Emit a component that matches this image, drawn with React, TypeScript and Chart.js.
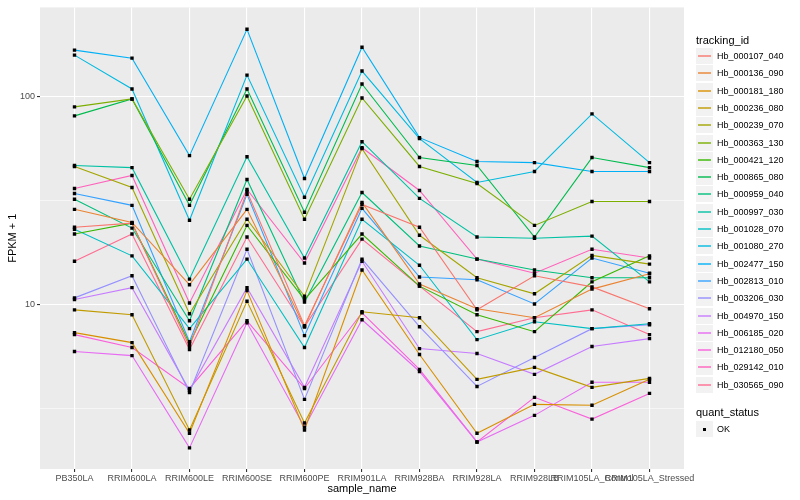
import React, { useEffect, useRef } from 'react';
import { Chart, registerables } from 'chart.js';

Chart.register(...registerables);

const sampleNames = ['PB350LA', 'RRIM600LA', 'RRIM600LE', 'RRIM600SE', 'RRIM600PE', 'RRIM901LA', 'RRIM928BA', 'RRIM928LA', 'RRIM928LB', 'RRIM105LA_Control', 'RRIM105LA_Stressed'];

const trackingIds = ['Hb_000107_040', 'Hb_000136_090', 'Hb_000181_180', 'Hb_000236_080', 'Hb_000239_070', 'Hb_000363_130', 'Hb_000421_120', 'Hb_000865_080', 'Hb_000959_040', 'Hb_000997_030', 'Hb_001028_070', 'Hb_001080_270', 'Hb_002477_150', 'Hb_002813_010', 'Hb_003206_030', 'Hb_004970_150', 'Hb_006185_020', 'Hb_012180_050', 'Hb_029142_010', 'Hb_030565_090'];

const seriesColors = ['#F8766D', '#EA8331', '#D89000', '#C09B00', '#A3A500', '#7CAE00', '#39B600', '#00BB4E', '#00BF7D', '#00C1A3', '#00BFC4', '#00BAE0', '#00B0F6', '#35A2FF', '#9590FF', '#C77CFF', '#E76BF3', '#FA62DB', '#FF62BC', '#FF6C91'];

const hb000107 = [23.6, 24.7, 6.3, 35.1, 7.93, 30.4, 23.6, 9.46, 13.8, 12.2, 9.57];
const hb000136 = [28.8, 24.9, 12.5, 28.8, 7.85, 31.1, 12.6, 9.57, 8.67, 11.9, 14.1];
const hb000181 = [7.35, 6.58, 2.41, 11.7, 2.5, 14.7, 5.77, 2.41, 3.32, 3.29, 4.38];
const hb000236 = [9.46, 8.96, 2.5, 10.4, 2.7, 9.26, 8.67, 4.38, 5.0, 4.01, 4.43];
const hb000239 = [46.3, 36.7, 9.06, 25.8, 11.0, 56.4, 21.6, 13.5, 11.3, 17.3, 15.7];
const hb000363 = [89.6, 97.8, 32.2, 101.1, 25.8, 98.9, 46.3, 38.3, 24.1, 31.4, 31.4];
const hb000421 = [21.9, 24.7, 6.51, 24.1, 10.6, 21.9, 12.3, 8.96, 7.43, 12.9, 17.2];
const hb000865 = [81.1, 97.8, 30.1, 109.2, 27.9, 115.4, 51.1, 46.8, 21.2, 51.1, 45.7];
const hb000959 = [32.2, 23.4, 8.38, 40.1, 10.3, 34.7, 19.2, 16.6, 14.7, 13.5, 13.5];
const hb000997 = [46.8, 45.7, 13.3, 51.6, 16.8, 60.9, 32.5, 21.2, 20.9, 21.4, 12.9];
const hb001028 = [23.1, 17.2, 7.68, 16.6, 6.23, 25.8, 15.5, 6.8, 8.29, 7.68, 8.11];
const hb001080 = [158.9, 109.2, 25.5, 127.4, 32.9, 133.2, 63.0, 38.8, 43.8, 82.9, 48.3];
const hb002477 = [167.9, 153.7, 52.2, 211.5, 40.5, 173.5, 63.7, 48.9, 48.3, 43.8, 43.8];
const hb002813 = [34.3, 30.1, 6.65, 34.0, 7.11, 29.1, 13.6, 13.2, 10.1, 16.8, 14.2];
const hb003206 = [10.8, 13.8, 3.79, 18.5, 3.51, 16.6, 7.85, 4.05, 5.58, 7.68, 8.02];
const hb004970 = [10.6, 12.1, 3.88, 12.1, 4.01, 16.2, 6.16, 5.83, 4.63, 6.3, 6.88];
const hb006185 = [5.96, 5.7, 2.05, 8.2, 2.58, 8.48, 4.78, 2.19, 2.94, 4.24, 4.24];
const hb012180 = [7.19, 6.23, 3.96, 8.38, 3.96, 9.16, 4.89, 2.19, 3.59, 2.82, 3.75];
const hb029142 = [36.3, 41.9, 10.2, 35.9, 15.9, 57.0, 35.5, 16.6, 14.2, 18.5, 16.8];
const hb030565 = [16.2, 21.9, 6.09, 21.2, 7.85, 20.7, 12.3, 7.43, 8.67, 9.46, 7.19];

const seriesValues = [hb000107, hb000136, hb000181, hb000236, hb000239, hb000363, hb000421, hb000865, hb000959, hb000997, hb001028, hb001080, hb002477, hb002813, hb003206, hb004970, hb006185, hb012180, hb029142, hb030565];

const yMajorTicks = [10, 100];
const yMinorTicks = [3.1623, 31.623];
const yMin = 1.623;
const yMax = 269.6;

const FONT = '"Liberation Sans", Arial, Helvetica, sans-serif';

const panelBg = {
  id: 'panelBg',
  beforeDraw(chart: any) {
    const { ctx, chartArea: a } = chart;
    ctx.save();
    ctx.fillStyle = '#EBEBEB';
    ctx.fillRect(a.left, a.top, a.right - a.left, a.bottom - a.top);
    ctx.restore();
  },
};

function ChartCanvas() {
  const ref = useRef<HTMLCanvasElement | null>(null);
  useEffect(() => {
    if (!ref.current) return;
    const lineSets = seriesValues.map((vals, i) => ({
      label: trackingIds[i],
      data: vals.map((v, j) => ({ x: j + 1, y: v })),
      borderColor: seriesColors[i],
      backgroundColor: seriesColors[i],
      borderWidth: 1.1,
      pointRadius: 0,
      tension: 0,
      order: 1,
    }));
    const pointSets = seriesValues.map((vals, i) => ({
      label: trackingIds[i] + ' OK',
      data: vals.map((v, j) => ({ x: j + 1, y: v })),
      showLine: false,
      pointStyle: 'rect',
      pointRadius: 2.4,
      pointBorderWidth: 0,
      pointBackgroundColor: '#000000',
      pointBorderColor: '#000000',
      order: 0,
    }));
    const chart = new Chart(ref.current, {
      type: 'line',
      data: { datasets: [...lineSets, ...pointSets] as any },
      plugins: [panelBg],
      options: {
        animation: false,
        responsive: true,
        maintainAspectRatio: false,
        layout: { padding: { left: 0, right: 116, top: 5, bottom: 0 } },
        plugins: { legend: { display: false }, tooltip: { enabled: false } },
        scales: {
          x: {
            type: 'linear',
            min: 0.4,
            max: 11.6,
            afterBuildTicks: (axis: any) => {
              axis.ticks = sampleNames.map((_, i) => ({ value: i + 1 }));
            },
            afterFit: (scale: any) => {
              scale.height = 31;
            },
            border: { display: false },
            grid: {
              color: '#FFFFFF',
              lineWidth: 1.1,
              tickLength: 3,
              tickColor: '#333333',
              drawTicks: true,
            },
            ticks: {
              autoSkip: false,
              maxRotation: 0,
              minRotation: 0,
              padding: 1,
              color: '#4D4D4D',
              font: { family: FONT, size: 9 },
              callback: (v: any) => sampleNames[Math.round(Number(v)) - 1] ?? '',
            },
            title: {
              display: true,
              text: 'sample_name',
              color: '#000000',
              font: { family: FONT, size: 11 },
              padding: { top: 0, bottom: 4 },
            },
          },
          y: {
            type: 'logarithmic',
            min: yMin,
            max: yMax,
            bounds: 'data',
            afterBuildTicks: (axis: any) => {
              axis.ticks = [...yMinorTicks, ...yMajorTicks].sort((a, b) => a - b).map((v) => ({ value: v }));
            },
            afterFit: (scale: any) => {
              scale.width = 40;
            },
            border: { display: false },
            grid: {
              color: '#FFFFFF',
              lineWidth: (ctx: any) => (yMajorTicks.includes(ctx.tick?.value) ? 1.1 : 0.55),
              tickLength: 3,
              tickColor: (ctx: any) => (yMajorTicks.includes(ctx.tick?.value) ? '#333333' : 'rgba(0,0,0,0)'),
              drawTicks: true,
            },
            ticks: {
              autoSkip: false,
              padding: 2,
              color: '#4D4D4D',
              font: { family: FONT, size: 9 },
              callback: (v: any) => (yMajorTicks.includes(Number(v)) ? String(v) : ''),
            },
            title: {
              display: true,
              text: 'FPKM + 1',
              color: '#000000',
              font: { family: FONT, size: 11 },
              padding: { top: 6, bottom: 0 },
            },
          },
        },
      } as any,
    });
    return () => chart.destroy();
  }, []);
  return <canvas ref={ref} />;
}

function Legend() {
  const rowH = 17.3;
  const firstTop = 48;
  return (
    <div style={{ position: 'absolute', left: 696, top: 0, width: 104, height: 500, fontFamily: FONT, color: '#000' }}>
      <div style={{ position: 'absolute', left: 0, top: 33, fontSize: 11, lineHeight: '14px', whiteSpace: 'nowrap' }}>tracking_id</div>
      {trackingIds.map((id, i) => {
        const top = Math.round(firstTop + i * rowH);
        return (
          <div key={id} style={{ position: 'absolute', left: 0, top, height: 17, width: 104 }}>
            <div style={{ position: 'absolute', left: 0, top: 0, width: 17, height: 16, background: '#F2F2F2' }}>
              <svg width={17} height={16} style={{ position: 'absolute', left: 0, top: 0 }}>
                <line x1={2} y1={8} x2={15} y2={8} stroke={seriesColors[i]} strokeWidth={1.4} />
              </svg>
            </div>
            <div style={{ position: 'absolute', left: 21, top: 0, height: 17, lineHeight: '17px', fontSize: 9, whiteSpace: 'nowrap' }}>{id}</div>
          </div>
        );
      })}
      <div style={{ position: 'absolute', left: 0, top: 405, fontSize: 11, lineHeight: '14px', whiteSpace: 'nowrap' }}>quant_status</div>
      <div style={{ position: 'absolute', left: 0, top: 421, height: 17, width: 104 }}>
        <div style={{ position: 'absolute', left: 0, top: 0, width: 17, height: 16, background: '#F2F2F2' }}>
          <div style={{ position: 'absolute', left: 7, top: 7, width: 3, height: 3, background: '#000' }} />
        </div>
        <div style={{ position: 'absolute', left: 21, top: 0, height: 17, lineHeight: '17px', fontSize: 9, whiteSpace: 'nowrap' }}>OK</div>
      </div>
    </div>
  );
}

export default function App() {
  return (
    <div style={{ position: 'fixed', left: 0, top: 0, width: 800, height: 500, background: '#FFFFFF', overflow: 'hidden' }}>
      <div style={{ position: 'absolute', left: 0, top: 0, width: 800, height: 500 }}>
        <ChartCanvas />
      </div>
      <Legend />
    </div>
  );
}
